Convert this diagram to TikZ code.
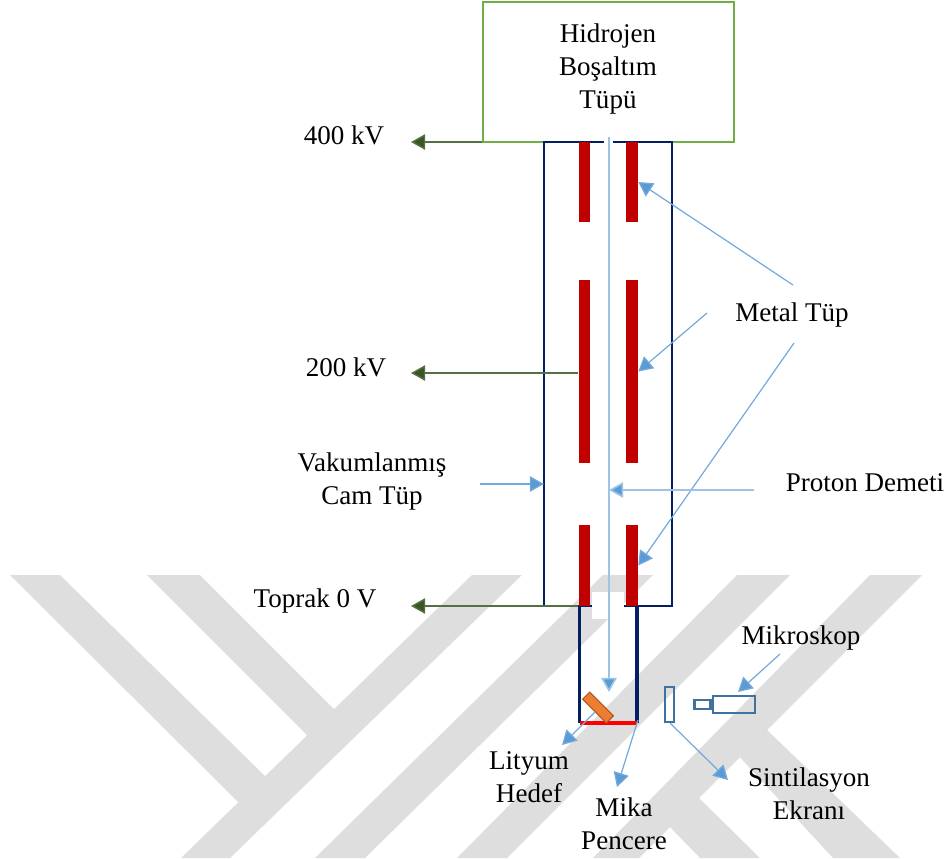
\documentclass[tikz,border=0pt]{standalone}
\usepackage{fontspec}
\setmainfont{Liberation Serif}
\usepackage{xcolor}
\usetikzlibrary{positioning,arrows.meta}
\definecolor{wmarkcol}{RGB}{222,222,222}
\definecolor{glasscol}{RGB}{0,32,96}
\definecolor{metalcol}{RGB}{192,0,0}
\definecolor{boxcol}{RGB}{112,173,71}
\definecolor{voltcol}{RGB}{56,87,35}
\definecolor{leadcol}{RGB}{91,155,213}
\definecolor{partcol}{RGB}{65,113,156}
\definecolor{targetcol}{RGB}{237,125,49}
\definecolor{targetedge}{RGB}{174,90,33}

\begin{document}
\begin{tikzpicture}[
  x=1.58cm, y=-1.58cm,
  every node/.style={font=\fontsize{12.15}{14.8}\selectfont},
  wmark/.style={fill=wmarkcol},
  glass/.style={draw=glasscol, line width=1.05pt},
  metal/.style={fill=metalcol, inner sep=0pt, minimum width=0.185cm},
  part/.style={draw=partcol, line width=1.15pt, inner sep=0pt},
  volt/.style={-{Triangle[length=6.4pt,width=7pt,fill=voltcol]}, voltcol!85!white, line width=0.65pt},
  lead/.style={-{Triangle[length=6.4pt,width=7pt,fill=leadcol]}, leadcol!85!white, line width=0.55pt},
  beam/.style={-{Triangle[length=6.4pt,width=7pt,fill=leadcol]}, leadcol!60!white, line width=0.75pt},
  lab/.style={align=center, inner sep=0pt},
]
\useasboundingbox (0,0) rectangle (9.47,8.58);
\foreach \a/\b/\c/\d in {4.72/5.22/2.30/1.81, 6.03/6.53/3.65/3.15, 7.37/7.90/5.07/4.57, 8.70/9.22/6.39/5.93}
  \fill[wmark] (\a,5.75) -- (\b,5.75) -- (\c,8.58) -- (\d,8.58) -- cycle;
\fill[wmark] (0.10,5.75) -- (0.60,5.75) -- (2.66,7.77) -- (2.40,8.04) -- cycle;
\fill[wmark] (1.47,5.75) -- (2.00,5.75) -- (3.35,7.10) -- (3.09,7.37) -- cycle;
\fill[wmark] (6.66,8.23) -- (7.00,8.58) -- (7.60,8.58) -- (6.96,7.95) -- cycle;
\fill[wmark] (7.36,7.53) -- (8.33,8.58) -- (9.00,8.58) -- (7.65,7.28) -- cycle;

\node[draw=boxcol, line width=1.05pt, minimum width=3.966cm, minimum height=2.212cm, inner sep=0pt] (hbox) at (6.085,0.72) {};
\node[lab] (hlab) at (6.08,0.69) {Hidrojen\\Boşaltım\\Tüpü};

\fill[white] (6.04,1.38) rectangle (6.13,1.46);
\draw[glass] (6.04,1.42) -- (5.44,1.42) -- (5.44,6.06) -- (6.72,6.06) -- (6.72,1.42) -- (6.13,1.42);
\fill[white] (5.92,5.92) rectangle (6.24,6.19);
\draw[glass, line width=1.4pt] (5.795,6.06) -- (5.795,7.23);
\draw[glass, line width=1.4pt] (6.37,6.06) -- (6.37,7.23);
\draw[red, line width=1.4pt] (5.795,7.23) -- (6.37,7.23);

\node[metal, minimum height=1.264cm] (mtopl) at (5.845,1.82) {};
\node[metal, minimum height=1.264cm] (mtopr) at (6.32,1.82) {};
\node[metal, minimum height=2.891cm] (mmidl) at (5.845,3.715) {};
\node[metal, minimum height=2.891cm] (mmidr) at (6.32,3.715) {};
\node[metal, minimum height=1.28cm]  (mbotl) at (5.845,5.655) {};
\node[metal, minimum height=1.28cm]  (mbotr) at (6.32,5.655) {};

\node[fill=targetcol, draw=targetedge, line width=0.5pt, rotate=-45, minimum width=0.53cm, minimum height=0.16cm, inner sep=0pt] (target) at (5.98,7.075) {};
\node[part, minimum width=0.14cm, minimum height=0.55cm] (screen) at (6.695,7.045) {};
\node[part, minimum width=0.66cm, minimum height=0.27cm] (scope) at (7.34,7.045) {};
\node[part, minimum width=0.25cm, minimum height=0.14cm, left=0pt of scope] (eyepiece) {};

\node[lab] (v400) at (3.44,1.35) {400 kV};
\node[lab] (v200) at (3.46,3.67) {200 kV};
\node[lab] (v0) at (3.15,6.01) {Toprak 0 V};
\node[lab] (vacuum) at (3.72,4.815) {Vakumlanmış\\Cam Tüp};
\node[lab] (metallab) at (7.92,3.15) {Metal Tüp};
\node[lab] (proton) at (8.65,4.83) {Proton Demeti};
\node[lab] (scopelab) at (8.01,6.38) {Mikroskop};
\node[lab] (lithium) at (5.29,7.77) {Lityum\\Hedef};
\node[lab] (mica) at (6.24,8.24) {Mika\\Pencere};
\node[lab] (screenlab) at (8.09,7.94) {Sintilasyon\\Ekranı};

\coordinate (beamtop) at (6.09,1.37);
\coordinate (beamend) at (6.09,6.92);
\coordinate (v400end) at (4.11,1.42);
\coordinate (v200end) at (4.11,3.73);
\coordinate (v0end) at (4.11,6.06);
\coordinate (metaltaila) at (7.93,2.85);
\coordinate (metaltailb) at (7.07,3.13);
\coordinate (metaltailc) at (7.94,3.43);
\coordinate (vacuumtail) at (4.80,4.84);
\coordinate (glasswall) at (5.44,4.84);
\coordinate (prototail) at (7.54,4.90);
\coordinate (protohead) at (6.09,4.90);
\coordinate (scopetail) at (7.80,6.54);
\coordinate (scopehead) at (7.38,6.92);
\coordinate (lithtail) at (5.95,7.12);
\coordinate (lithhead) at (5.62,7.45);
\coordinate (micatail) at (6.38,7.20);
\coordinate (micahead) at (6.17,7.87);
\coordinate (screentail) at (6.70,7.23);
\coordinate (screenhead) at (7.28,7.80);

\draw[beam] (beamtop) -- (beamend);
\draw[volt] (v400end -| hbox.west) -- (v400end);
\draw[volt] (mmidl.west |- v200end) -- (v200end);
\draw[volt] (v0end -| mbotl.west) -- (v0end);
\draw[lead] (metaltaila) -- (mtopr.east);
\draw[lead] (metaltailb) -- (mmidr.east);
\draw[lead] (metaltailc) -- (mbotr.east);
\draw[lead] (vacuumtail) -- (glasswall);
\draw[beam] (prototail) -- (protohead);
\draw[lead] (scopetail) -- (scopehead);
\draw[lead] (lithtail) -- (lithhead);
\draw[lead] (micatail) -- (micahead);
\draw[lead] (screentail) -- (screenhead);
\end{tikzpicture}
\end{document}
